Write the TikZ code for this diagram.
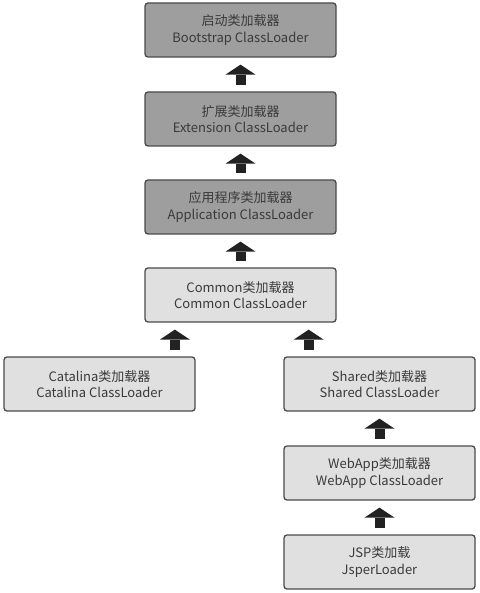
\documentclass[tikz,border=0pt]{standalone}
\usepackage{fontspec}
\setmainfont{Noto Sans CJK SC}
\usetikzlibrary{arrows.meta}
\definecolor{darkfill}{HTML}{9E9E9E}
\definecolor{lightfill}{HTML}{E0E0E0}
\definecolor{boxline}{HTML}{4A4A4A}
\definecolor{ink}{HTML}{3A3A3A}
\definecolor{arrowink}{HTML}{222222}
\tikzset{
  loader/.style={draw=boxline,line width=1.3pt,rounded corners=3pt,
    minimum width=191pt,minimum height=54pt,align=center,text=ink,
    font=\fontsize{13}{16.5}\selectfont},
  sysloader/.style={loader,fill=darkfill},
  appsloader/.style={loader,fill=lightfill},
  up/.style={draw=arrowink,line width=10pt,shorten <=6.5pt,shorten >=7pt,
    -{Triangle[width=30pt,length=10pt,line width=0pt]}}
}
\begin{document}
\begin{tikzpicture}[x=1pt,y=-1pt]
                \useasboundingbox (0,0) rectangle (479,593);

                \node[sysloader] (boot) at (240.5,30) {启动类加载器\\Bootstrap ClassLoader};
                \node[sysloader] (ext) at (240.5,119) {扩展类加载器\\Extension ClassLoader};
                \node[sysloader] (app) at (240.5,207) {应用程序类加载器\\Application ClassLoader};
                \node[appsloader] (com) at (240.5,295) {Common类加载器\\Common ClassLoader};
                \node[appsloader] (cat) at (99.5,384) {Catalina类加载器\\Catalina ClassLoader};
                \node[appsloader] (shr) at (379.5,384) {Shared类加载器\\Shared ClassLoader};
                \node[appsloader] (web) at (379.5,473) {WebApp类加载器\\WebApp ClassLoader};
                \node[appsloader] (jsp) at (379.5,562) {JSP类加载\\JsperLoader};

                \coordinate (comL) at ([xshift=30.5pt]com.south west);
                \coordinate (comR) at ([xshift=-28pt]com.south east);

                \draw[up] (ext) -- (boot);
                \draw[up] (app) -- (ext);
                \draw[up] (com) -- (app);
                \draw[up] (cat.north -| comL) -- (comL);
                \draw[up] (shr.north -| comR) -- (comR);
                \draw[up] (web) -- (shr);
                \draw[up] (jsp) -- (web);

\end{tikzpicture}
\end{document}
